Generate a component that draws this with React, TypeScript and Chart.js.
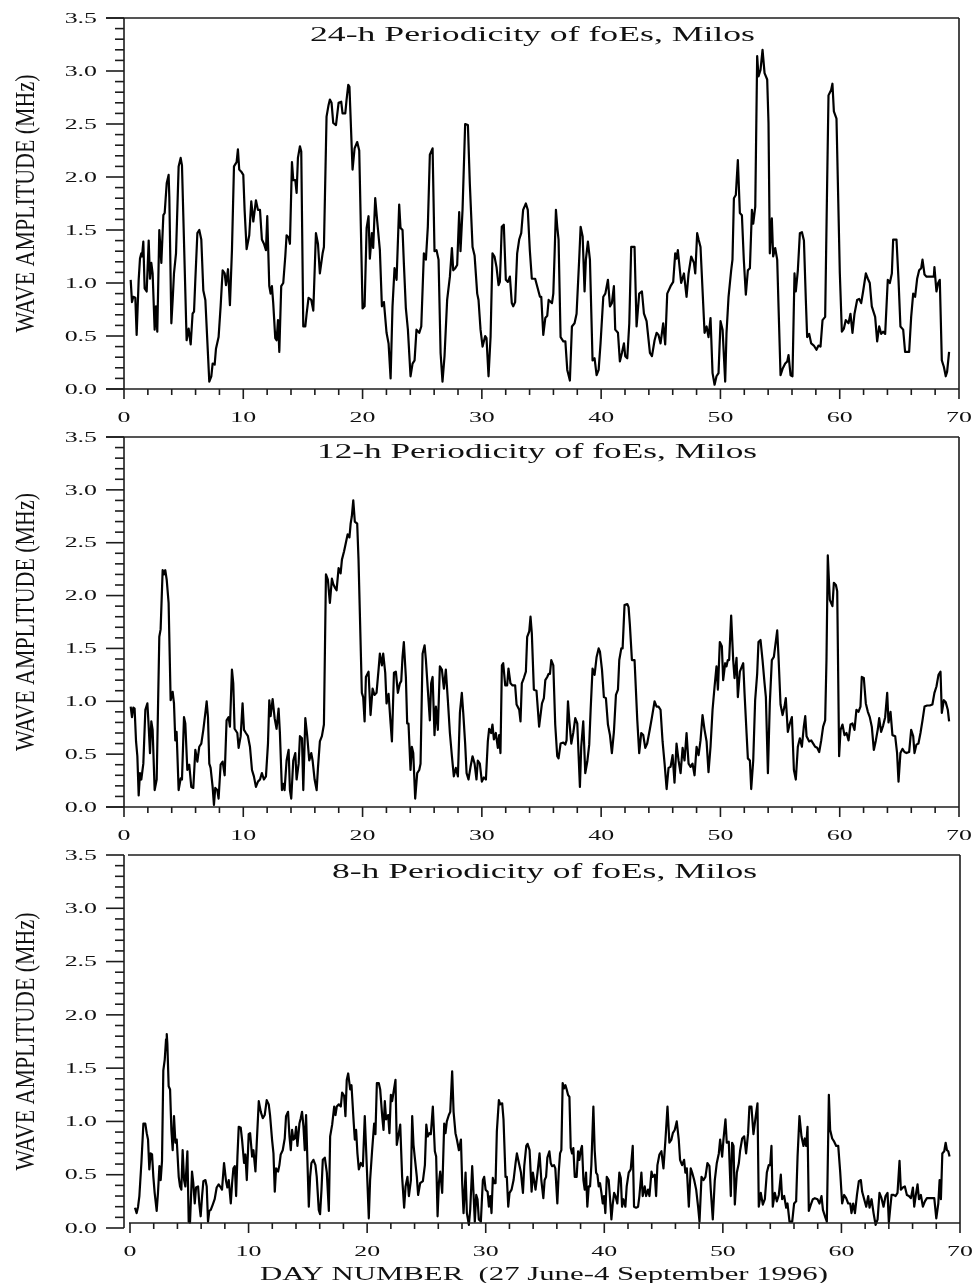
import React, { useEffect, useRef } from "react";
import { Chart, registerables } from "chart.js";

Chart.register(...registerables);

// ---------- DATA (day number, wave amplitude MHz) ----------
const series24: [number, number][] = [
  [0.56,1.03],[0.67,0.82],[0.78,0.87],[0.95,0.86],[1.06,0.51],[1.23,1.03],[1.34,1.23],[1.45,1.28],[1.51,1.25],[1.62,1.39],
  [1.73,0.95],[1.90,0.92],[2.07,1.40],[2.18,1.04],[2.29,1.19],[2.40,1.09],[2.57,0.56],[2.68,0.78],[2.79,0.54],[2.96,1.50],
  [3.13,1.19],[3.30,1.64],[3.41,1.66],[3.58,1.94],[3.74,2.02],[3.80,1.81],[3.97,0.62],[4.08,0.84],[4.19,1.09],[4.36,1.28],
  [4.58,2.10],[4.75,2.18],[4.86,2.11],[5.25,0.46],[5.42,0.57],[5.59,0.42],[5.75,0.71],[5.87,0.73],[5.98,1.03],[6.15,1.47],
  [6.31,1.50],[6.48,1.41],[6.65,0.93],[6.82,0.84],[7.15,0.07],[7.32,0.12],[7.43,0.24],[7.60,0.23],[7.71,0.38],[7.93,0.49],
  [8.10,0.78],[8.27,1.12],[8.44,1.09],[8.55,0.98],[8.72,1.13],[8.88,0.79],[9.05,1.31],[9.22,2.10],[9.44,2.14],[9.55,2.26],
  [9.66,2.07],[9.83,2.05],[10.0,2.02],[10.11,1.69],[10.28,1.32],[10.50,1.45],[10.67,1.77],[10.84,1.58],[11.06,1.78],[11.23,1.69],
  [11.40,1.69],[11.56,1.41],[11.73,1.37],[11.90,1.31],[12.01,1.63],[12.18,0.97],[12.29,0.90],[12.40,0.97],[12.51,0.81],[12.68,0.48],
  [12.79,0.46],[12.91,0.65],[13.02,0.35],[13.18,0.97],[13.35,1.00],[13.52,1.25],[13.63,1.45],[13.80,1.43],[13.91,1.37],[14.08,2.14],
  [14.19,1.97],[14.36,1.97],[14.47,1.85],[14.58,2.18],[14.75,2.29],[14.86,2.24],[15.03,0.59],[15.20,0.59],[15.31,0.71],[15.47,0.86],
  [15.70,0.84],[15.87,0.74],[16.09,1.47],[16.26,1.37],[16.42,1.09],[16.65,1.28],[16.76,1.34],[16.98,2.57],[17.15,2.68],[17.26,2.73],
  [17.40,2.70],[17.54,2.51],[17.77,2.49],[17.99,2.70],[18.21,2.71],[18.32,2.60],[18.55,2.60],[18.66,2.73],[18.80,2.87],[18.90,2.85],
  [19.16,2.07],[19.33,2.27],[19.55,2.33],[19.72,2.25],[20.0,0.76],[20.17,0.78],[20.34,1.52],[20.50,1.63],[20.61,1.23],[20.78,1.47],
  [20.89,1.33],[21.06,1.80],[21.23,1.58],[21.45,1.31],[21.62,0.78],[21.79,0.82],[22.01,0.53],[22.18,0.43],[22.35,0.10],[22.51,0.78],
  [22.68,1.14],[22.85,1.03],[23.07,1.74],[23.18,1.52],[23.35,1.50],[23.46,1.19],[23.63,0.76],[23.80,0.56],[24.02,0.12],[24.19,0.24],
  [24.36,0.27],[24.52,0.56],[24.75,0.53],[24.92,0.59],[25.14,1.28],[25.31,1.22],[25.47,1.53],[25.64,2.21],[25.87,2.27],[26.03,1.30],
  [26.20,1.31],[26.37,1.22],[26.54,0.34],[26.70,0.07],[26.87,0.31],[27.09,0.84],[27.32,1.06],[27.49,1.33],[27.60,1.12],[27.77,1.14],
  [27.93,1.17],[28.10,1.67],[28.21,1.30],[28.38,1.69],[28.60,2.50],[28.83,2.49],[28.99,1.94],[29.22,1.34],[29.39,1.26],[29.61,0.90],
  [29.72,0.84],[29.89,0.56],[30.06,0.40],[30.28,0.50],[30.39,0.48],[30.56,0.12],[30.73,0.49],[30.89,1.28],[31.06,1.25],[31.23,1.15],
  [31.40,0.98],[31.51,1.01],[31.67,1.53],[31.84,1.55],[32.01,1.03],[32.18,1.01],[32.35,1.06],[32.51,0.81],[32.63,0.78],[32.79,0.82],
  [32.96,1.28],[33.13,1.41],[33.30,1.47],[33.46,1.69],[33.69,1.75],[33.85,1.69],[34.02,1.31],[34.19,1.04],[34.47,1.04],[34.87,0.87],
  [34.98,0.87],[35.15,0.51],[35.32,0.67],[35.48,0.69],[35.60,0.84],[35.88,0.81],[35.99,0.90],[36.10,1.28],[36.21,1.69],[36.32,1.53],
  [36.43,1.41],[36.60,0.49],[36.83,0.45],[37.00,0.45],[37.16,0.18],[37.38,0.08],[37.55,0.59],[37.77,0.62],[37.94,0.71],[38.17,1.25],
  [38.28,1.53],[38.45,1.44],[38.61,0.92],[38.72,1.22],[38.89,1.39],[39.06,1.22],[39.28,0.27],[39.45,0.29],[39.62,0.13],[39.79,0.18],
  [39.95,0.43],[40.18,0.87],[40.35,0.90],[40.57,1.03],[40.74,0.78],[40.90,0.81],[41.07,0.97],[41.18,0.56],[41.41,0.53],[41.57,0.26],
  [41.74,0.34],[41.91,0.43],[42.02,0.31],[42.19,0.29],[42.36,0.62],[42.52,1.34],[42.80,1.34],[42.97,0.59],[43.19,0.90],[43.42,0.92],
  [43.59,0.71],[43.81,0.64],[44.09,0.34],[44.26,0.31],[44.48,0.46],[44.65,0.53],[44.81,0.51],[44.98,0.43],[45.20,0.62],[45.37,0.42],
  [45.54,0.90],[45.82,0.97],[46.04,1.01],[46.21,1.28],[46.32,1.23],[46.43,1.31],[46.71,1.00],[46.94,1.09],[47.16,0.87],[47.33,1.09],
  [47.55,1.25],[47.78,1.19],[47.89,1.09],[48.05,1.47],[48.17,1.41],[48.33,1.34],[48.67,0.53],[48.84,0.59],[49.00,0.49],[49.17,0.67],
  [49.34,0.15],[49.51,0.04],[49.67,0.12],[49.84,0.15],[50.01,0.64],[50.18,0.56],[50.40,0.07],[50.51,0.53],[50.68,0.87],[50.90,1.12],
  [51.01,1.22],[51.13,1.80],[51.29,1.83],[51.46,2.16],[51.63,1.66],[51.80,1.64],[51.96,1.22],[52.13,0.89],[52.30,1.12],[52.47,1.14],
  [52.64,1.69],[52.75,1.56],[52.92,1.72],[53.08,3.14],[53.19,2.95],[53.36,3.01],[53.53,3.20],[53.70,2.98],[53.92,2.92],[54.03,2.51],
  [54.14,1.28],[54.31,1.61],[54.42,1.25],[54.59,1.33],[54.76,1.22],[54.87,0.78],[55.04,0.13],[55.21,0.19],[55.43,0.24],[55.60,0.26],
  [55.71,0.32],[55.88,0.13],[56.04,0.12],[56.21,1.09],[56.32,0.92],[56.49,1.12],[56.66,1.47],[56.83,1.48],[57.00,1.40],[57.16,0.84],
  [57.27,0.49],[57.44,0.52],[57.61,0.43],[57.83,0.41],[58.05,0.37],[58.22,0.41],[58.39,0.40],[58.56,0.65],[58.78,0.68],[58.95,1.97],
  [59.06,2.77],[59.28,2.82],[59.39,2.88],[59.51,2.62],[59.73,2.55],[60.01,1.09],[60.18,0.54],[60.35,0.57],[60.51,0.65],[60.74,0.62],
  [60.90,0.71],[61.07,0.53],[61.24,0.71],[61.46,0.84],[61.63,0.85],[61.80,0.81],[61.96,0.92],[62.19,1.09],[62.36,1.04],[62.52,1.00],
  [62.69,0.78],[62.97,0.68],[63.14,0.45],[63.31,0.59],[63.48,0.52],[63.64,0.54],[63.81,0.52],[64.03,1.03],[64.20,1.00],[64.37,1.09],
  [64.48,1.41],[64.76,1.41],[64.93,1.03],[65.09,0.59],[65.32,0.56],[65.48,0.35],[65.82,0.35],[65.99,0.68],[66.16,0.90],[66.32,0.87],
  [66.49,1.04],[66.66,1.12],[66.83,1.14],[66.94,1.22],[67.11,1.08],[67.28,1.06],[67.55,1.06],[67.89,1.06],[67.94,1.15],[68.11,0.92],
  [68.25,1.00],[68.39,1.03],[68.56,0.27],[68.73,0.21],[68.89,0.12],[69.00,0.16],[69.17,0.35]
];

const series12: [number, number][] = [
  [0.56,0.95],[0.67,0.85],[0.78,0.94],[0.89,0.93],[1.01,0.62],[1.12,0.48],[1.23,0.11],[1.34,0.32],[1.45,0.26],[1.62,0.41],
  [1.79,0.92],[1.96,0.98],[2.07,0.76],[2.18,0.51],[2.29,0.81],[2.40,0.73],[2.57,0.16],[2.74,0.26],[2.96,1.61],[3.07,1.68],
  [3.24,2.24],[3.35,2.20],[3.46,2.24],[3.58,2.15],[3.74,1.93],[3.91,1.01],[4.08,1.09],[4.19,0.98],[4.30,0.63],[4.41,0.71],
  [4.58,0.16],[4.75,0.27],[4.86,0.26],[5.03,0.85],[5.14,0.79],[5.31,0.35],[5.47,0.40],[5.64,0.19],[5.81,0.18],[5.98,0.54],
  [6.15,0.43],[6.31,0.57],[6.48,0.60],[6.65,0.73],[6.82,0.89],[6.93,1.00],[7.04,0.85],[7.15,0.41],[7.26,0.37],[7.43,0.19],
  [7.54,0.02],[7.65,0.18],[7.82,0.16],[7.93,0.08],[8.10,0.40],[8.27,0.43],[8.44,0.30],[8.60,0.82],[8.77,0.85],[8.88,0.76],
  [9.05,1.30],[9.16,1.17],[9.27,0.74],[9.50,0.70],[9.61,0.56],[9.78,0.67],[9.94,0.98],[10.06,0.73],[10.22,0.70],[10.39,0.67],
  [10.56,0.57],[10.73,0.35],[10.89,0.29],[11.06,0.19],[11.23,0.24],[11.40,0.26],[11.56,0.32],[11.73,0.26],[11.90,0.29],[12.07,0.60],
  [12.18,1.01],[12.29,0.86],[12.46,1.02],[12.63,0.84],[12.79,0.74],[12.96,0.93],[13.07,0.70],[13.24,0.16],[13.35,0.22],[13.46,0.16],
  [13.63,0.44],[13.80,0.54],[13.91,0.16],[14.02,0.08],[14.19,0.44],[14.36,0.51],[14.47,0.26],[14.64,0.41],[14.75,0.67],[14.92,0.65],
  [15.03,0.16],[15.20,0.84],[15.36,0.67],[15.53,0.44],[15.70,0.51],[15.81,0.44],[15.98,0.26],[16.15,0.16],[16.26,0.37],[16.42,0.62],
  [16.59,0.67],[16.76,0.78],[16.93,2.20],[17.09,2.15],[17.26,1.93],[17.43,2.16],[17.54,2.11],[17.71,2.07],[17.82,2.05],[17.99,2.26],
  [18.16,2.21],[18.27,2.34],[18.45,2.42],[18.60,2.50],[18.75,2.58],[18.90,2.55],[19.00,2.68],[19.10,2.75],[19.22,2.90],[19.35,2.70],
  [19.55,2.68],[19.66,2.34],[19.94,1.08],[20.05,1.04],[20.17,0.81],[20.28,1.23],[20.50,1.28],[20.67,0.87],[20.84,1.12],[21.00,1.06],
  [21.17,1.08],[21.34,1.30],[21.45,1.45],[21.62,1.34],[21.73,1.45],[21.90,1.27],[22.01,0.98],[22.18,1.07],[22.35,0.79],[22.46,0.62],
  [22.63,1.27],[22.79,1.28],[22.96,1.08],[23.13,1.17],[23.24,1.19],[23.35,1.42],[23.46,1.56],[23.63,1.23],[23.74,0.79],[23.85,0.79],
  [24.02,0.35],[24.13,0.57],[24.25,0.51],[24.41,0.08],[24.58,0.32],[24.75,0.35],[24.86,0.41],[25.03,1.45],[25.20,1.53],[25.31,1.39],
  [25.47,1.11],[25.64,0.82],[25.75,1.17],[25.87,1.23],[26.03,0.68],[26.15,0.95],[26.31,0.73],[26.48,1.33],[26.65,1.30],[26.82,1.12],
  [26.98,1.30],[27.15,1.01],[27.32,0.70],[27.49,0.48],[27.65,0.29],[27.82,0.37],[27.99,0.29],[28.16,0.89],[28.32,1.08],[28.44,0.89],
  [28.60,0.60],[28.72,0.32],[28.88,0.26],[29.05,0.38],[29.22,0.48],[29.39,0.41],[29.55,0.26],[29.66,0.44],[29.83,0.41],[30.00,0.24],
  [30.17,0.28],[30.34,0.26],[30.50,0.62],[30.61,0.74],[30.78,0.70],[30.89,0.78],[31.01,0.64],[31.17,0.70],[31.34,0.56],[31.45,0.68],
  [31.56,0.51],[31.68,1.34],[31.79,1.36],[31.96,1.15],[32.12,1.15],[32.23,1.31],[32.40,1.17],[32.57,1.15],[32.79,1.15],[32.91,0.97],
  [33.13,0.92],[33.24,0.81],[33.35,1.17],[33.52,1.22],[33.69,1.28],[33.80,1.61],[33.97,1.66],[34.08,1.80],[34.19,1.64],[34.36,1.11],
  [34.58,1.10],[34.80,0.76],[35.04,0.98],[35.20,1.03],[35.32,1.20],[35.48,1.23],[35.60,1.26],[35.71,1.26],[35.82,1.39],[35.99,1.34],
  [36.15,0.78],[36.32,0.48],[36.43,0.46],[36.60,0.60],[36.83,0.61],[36.99,0.59],[37.10,0.63],[37.22,1.00],[37.33,0.82],[37.50,0.60],
  [37.66,0.70],[37.83,0.84],[38.00,0.79],[38.22,0.19],[38.33,0.57],[38.50,0.81],[38.67,0.32],[38.84,0.43],[39.00,0.59],[39.12,0.92],
  [39.28,1.31],[39.45,1.25],[39.62,1.42],[39.79,1.50],[39.90,1.47],[40.07,1.30],[40.23,1.04],[40.40,1.03],[40.57,0.78],[40.74,0.68],
  [40.90,0.51],[41.07,0.71],[41.24,1.06],[41.41,1.11],[41.52,1.39],[41.69,1.50],[41.80,1.50],[41.96,1.91],[42.19,1.92],[42.30,1.89],
  [42.41,1.72],[42.58,1.39],[42.80,1.39],[43.03,0.82],[43.19,0.51],[43.36,0.70],[43.53,0.68],[43.70,0.56],[43.86,0.60],[44.09,0.74],
  [44.26,0.85],[44.48,1.00],[44.65,0.95],[44.81,0.95],[44.98,0.92],[45.15,0.62],[45.32,0.41],[45.49,0.17],[45.65,0.37],[45.82,0.38],
  [45.99,0.49],[46.15,0.23],[46.32,0.60],[46.49,0.44],[46.66,0.32],[46.83,0.56],[46.99,0.44],[47.16,0.70],[47.33,0.41],[47.50,0.38],
  [47.66,0.41],[47.83,0.30],[48.00,0.57],[48.17,0.49],[48.33,0.63],[48.50,0.87],[48.67,0.73],[48.84,0.62],[49.00,0.33],[49.17,0.57],
  [49.34,0.92],[49.51,1.14],[49.67,1.33],[49.79,1.11],[49.95,1.56],[50.12,1.52],[50.23,1.20],[50.40,1.36],[50.51,1.33],[50.62,1.39],
  [50.73,1.39],[50.90,1.81],[51.07,1.39],[51.18,1.22],[51.35,1.41],[51.46,1.04],[51.63,1.28],[51.80,1.33],[51.91,1.36],[52.02,1.08],
  [52.19,0.70],[52.30,0.46],[52.47,0.44],[52.58,0.17],[52.75,0.44],[52.91,1.01],[53.08,1.26],[53.19,1.56],[53.36,1.58],[53.53,1.39],
  [53.70,1.17],[53.81,1.04],[53.98,0.32],[54.14,0.98],[54.31,1.39],[54.48,1.42],[54.59,1.52],[54.76,1.67],[54.87,1.42],[55.04,0.97],
  [55.21,0.87],[55.37,0.95],[55.48,1.03],[55.65,0.71],[55.82,0.79],[55.99,0.85],[56.16,0.35],[56.32,0.26],[56.49,0.57],[56.66,0.65],
  [56.83,0.57],[56.99,0.76],[57.11,0.86],[57.22,0.67],[57.44,0.62],[57.61,0.63],[57.78,0.60],[57.94,0.57],[58.11,0.56],[58.28,0.52],
  [58.45,0.63],[58.61,0.76],[58.78,0.82],[58.89,1.39],[59.00,2.38],[59.17,1.96],[59.39,1.90],[59.51,2.12],[59.68,2.10],[59.79,2.04],
  [59.95,0.48],[60.07,0.73],[60.23,0.78],[60.40,0.68],[60.57,0.70],[60.74,0.63],[60.90,0.78],[61.07,0.79],[61.24,0.73],[61.40,0.92],
  [61.57,0.90],[61.74,0.95],[61.85,1.23],[62.02,1.22],[62.19,0.98],[62.36,0.90],[62.52,0.85],[62.69,0.76],[62.86,0.54],[63.03,0.63],
  [63.20,0.74],[63.31,0.84],[63.47,0.71],[63.64,0.77],[63.81,0.85],[63.98,1.08],[64.09,0.80],[64.26,0.90],[64.42,0.68],[64.65,0.67],
  [64.81,0.51],[64.93,0.24],[65.09,0.51],[65.26,0.55],[65.43,0.52],[65.60,0.51],[65.82,0.52],[65.99,0.73],[66.16,0.67],[66.27,0.51],
  [66.43,0.59],[66.60,0.60],[66.77,0.70],[66.94,0.82],[67.11,0.95],[67.33,0.96],[67.55,0.96],[67.77,0.97],[67.94,1.08],[68.11,1.14],
  [68.28,1.25],[68.45,1.28],[68.56,0.89],[68.73,1.01],[68.89,0.99],[69.06,0.92],[69.17,0.81]
];

const series8: [number, number][] = [
  [0.42,0.19],[0.56,0.14],[0.68,0.20],[0.79,0.30],[0.96,0.61],[1.13,0.98],[1.29,0.98],[1.41,0.89],[1.52,0.83],[1.63,0.55],
  [1.74,0.70],[1.86,0.69],[1.97,0.48],[2.08,0.33],[2.25,0.16],[2.36,0.33],[2.48,0.58],[2.59,0.45],[2.70,0.63],[2.81,1.48],
  [2.93,1.58],[3.04,1.77],[3.10,1.82],[3.15,1.73],[3.26,1.33],[3.38,1.30],[3.49,0.92],[3.60,0.73],[3.71,1.05],[3.83,0.80],
  [3.94,0.83],[4.11,0.48],[4.22,0.39],[4.33,0.36],[4.44,0.73],[4.56,0.45],[4.67,0.39],[4.84,0.72],[4.95,0.06],[5.06,0.05],
  [5.23,0.53],[5.34,0.42],[5.46,0.23],[5.57,0.38],[5.74,0.39],[5.85,0.22],[5.96,0.11],[6.08,0.30],[6.19,0.44],[6.36,0.45],
  [6.47,0.39],[6.58,0.06],[6.69,0.16],[6.81,0.17],[6.98,0.22],[7.14,0.27],[7.31,0.38],[7.48,0.41],[7.65,0.38],[7.76,0.36],
  [7.93,0.61],[8.10,0.44],[8.21,0.38],[8.33,0.45],[8.50,0.23],[8.61,0.42],[8.72,0.56],[8.84,0.58],[8.95,0.30],[9.06,0.67],
  [9.17,0.95],[9.34,0.94],[9.45,0.83],[9.62,0.61],[9.73,0.69],[9.85,0.45],[10.01,0.88],[10.13,0.89],[10.30,0.67],[10.41,0.73],
  [10.58,0.53],[10.69,0.80],[10.86,1.19],[11.03,1.09],[11.20,1.03],[11.36,1.06],[11.53,1.20],[11.70,1.16],[11.81,1.06],[11.98,0.83],
  [12.10,0.70],[12.21,0.34],[12.32,0.56],[12.49,0.53],[12.60,0.59],[12.71,0.69],[12.88,0.73],[13.05,0.84],[13.16,1.05],[13.33,1.09],
  [13.45,0.86],[13.56,0.73],[13.67,0.92],[13.78,0.83],[13.90,0.84],[14.01,0.95],[14.12,0.77],[14.29,0.98],[14.40,1.03],[14.51,1.09],
  [14.63,0.95],[14.74,0.73],[14.85,1.06],[14.96,0.64],[15.08,0.20],[15.19,0.48],[15.30,0.61],[15.47,0.64],[15.64,0.59],[15.75,0.48],
  [15.92,0.17],[16.03,0.13],[16.15,0.36],[16.26,0.64],[16.43,0.66],[16.60,0.52],[16.77,0.16],[16.88,0.86],[17.05,0.97],[17.22,1.14],
  [17.33,1.06],[17.44,1.14],[17.61,1.16],[17.78,1.14],[17.89,1.27],[18.06,1.24],[18.17,1.05],[18.28,1.39],[18.40,1.45],[18.57,1.30],
  [18.68,1.34],[18.85,1.02],[18.96,0.83],[19.07,0.92],[19.18,0.70],[19.30,0.55],[19.47,0.61],[19.64,0.58],[19.80,1.05],[19.97,0.58],
  [20.14,0.09],[20.25,0.45],[20.42,0.73],[20.59,0.98],[20.70,0.88],[20.82,1.36],[20.98,1.36],[21.10,1.30],[21.27,1.05],[21.38,0.92],
  [21.49,1.19],[21.60,1.02],[21.77,1.06],[21.88,0.89],[22.00,1.25],[22.11,1.19],[22.22,1.27],[22.39,1.39],[22.50,0.78],[22.67,0.89],
  [22.79,0.97],[22.95,0.48],[23.12,0.19],[23.24,0.39],[23.40,0.48],[23.52,0.30],[23.69,0.45],[23.80,1.05],[23.91,0.78],[24.02,0.66],
  [24.19,0.48],[24.30,0.31],[24.47,0.42],[24.70,0.44],[24.87,0.59],[24.99,0.97],[25.11,0.86],[25.26,0.89],[25.37,0.88],[25.54,1.14],
  [25.71,0.72],[25.82,0.67],[25.94,0.11],[26.05,0.42],[26.16,0.53],[26.33,0.33],[26.50,0.98],[26.61,0.89],[26.72,1.00],[26.89,1.06],
  [27.01,1.09],[27.17,1.47],[27.29,1.09],[27.45,0.89],[27.57,0.83],[27.74,0.73],[27.91,0.83],[28.02,0.41],[28.13,0.14],[28.30,0.52],
  [28.41,0.14],[28.58,0.03],[28.69,0.17],[28.86,0.58],[28.97,0.33],[29.08,0.06],[29.20,0.31],[29.31,0.27],[29.42,0.08],[29.59,0.06],
  [29.76,0.45],[29.87,0.48],[29.99,0.36],[30.16,0.34],[30.27,0.20],[30.38,0.30],[30.49,0.14],[30.60,0.47],[30.72,0.42],[30.83,0.42],
  [30.94,0.91],[31.11,1.20],[31.22,1.16],[31.39,1.17],[31.50,1.02],[31.67,0.48],[31.78,0.48],[31.90,0.20],[32.01,0.33],[32.18,0.36],
  [32.35,0.45],[32.52,0.61],[32.63,0.70],[32.80,0.61],[32.97,0.52],[33.14,0.33],[33.25,0.58],[33.42,0.77],[33.53,0.79],[33.70,0.73],
  [33.87,0.34],[33.98,0.52],[34.20,0.36],[34.37,0.52],[34.54,0.70],[34.69,0.45],[34.86,0.28],[34.97,0.45],[35.09,0.48],[35.20,0.66],
  [35.37,0.72],[35.48,0.61],[35.59,0.58],[35.76,0.59],[35.87,0.56],[36.04,0.23],[36.16,0.53],[36.27,0.70],[36.38,0.73],[36.49,1.36],
  [36.61,1.31],[36.72,1.34],[36.83,1.30],[36.94,1.25],[37.06,1.23],[37.17,0.75],[37.28,0.70],[37.39,0.75],[37.51,0.48],[37.67,0.48],
  [37.79,0.72],[37.90,0.64],[38.01,0.73],[38.12,0.77],[38.24,0.45],[38.35,0.36],[38.46,0.52],[38.57,0.20],[38.69,0.39],[38.80,0.39],
  [38.91,0.59],[39.08,1.14],[39.19,0.73],[39.31,0.52],[39.42,0.50],[39.53,0.39],[39.64,0.42],[39.76,0.33],[39.87,0.23],[39.98,0.30],
  [40.09,0.14],[40.21,0.48],[40.37,0.45],[40.49,0.27],[40.60,0.08],[40.71,0.22],[40.83,0.33],[40.94,0.30],[41.10,0.23],[41.27,0.52],
  [41.39,0.47],[41.50,0.20],[41.61,0.27],[41.78,0.20],[41.89,0.39],[42.06,0.52],[42.23,0.55],[42.40,0.77],[42.51,0.20],[42.68,0.19],
  [42.85,0.20],[42.96,0.30],[43.13,0.52],[43.24,0.30],[43.41,0.39],[43.53,0.30],[43.69,0.36],[43.81,0.30],[43.98,0.53],[44.09,0.48],
  [44.26,0.50],[44.37,0.30],[44.48,0.59],[44.65,0.69],[44.82,0.72],[44.99,0.56],[45.16,0.83],[45.33,1.14],[45.49,0.80],[45.66,0.83],
  [45.78,0.89],[45.94,0.92],[46.11,1.00],[46.28,0.83],[46.39,0.64],[46.56,0.59],[46.73,0.64],[46.84,0.52],[46.96,0.56],[47.13,0.20],
  [47.29,0.56],[47.41,0.52],[47.58,0.45],[47.75,0.36],[47.91,0.20],[48.03,0.06],[48.20,0.48],[48.36,0.45],[48.53,0.48],[48.70,0.61],
  [48.87,0.58],[48.98,0.36],[49.15,0.08],[49.32,0.45],[49.49,0.61],[49.66,0.70],[49.77,0.83],[49.94,0.67],[50.05,0.83],[50.22,1.02],
  [50.33,0.80],[50.50,0.81],[50.67,0.30],[50.78,0.80],[50.90,0.77],[51.01,0.22],[51.18,0.52],[51.35,0.61],[51.46,0.73],[51.63,0.84],
  [51.80,0.86],[51.96,0.70],[52.13,0.89],[52.24,1.14],[52.41,1.14],[52.58,0.88],[52.75,1.03],[52.92,1.17],[53.03,0.20],[53.20,0.33],
  [53.37,0.22],[53.54,0.27],[53.71,0.52],[53.87,0.59],[53.99,0.59],[54.10,0.77],[54.21,0.20],[54.38,0.33],[54.55,0.25],[54.72,0.31],
  [54.89,0.50],[55.00,0.27],[55.17,0.30],[55.34,0.19],[55.45,0.23],[55.62,0.06],[55.85,0.06],[56.01,0.23],[56.18,0.25],[56.30,0.67],
  [56.46,1.05],[56.63,0.86],[56.80,0.77],[56.91,0.84],[57.03,0.77],[57.14,0.95],[57.25,0.16],[57.42,0.22],[57.59,0.27],[57.76,0.28],
  [57.98,0.27],[58.15,0.23],[58.32,0.30],[58.44,0.17],[58.61,0.11],[58.77,0.06],[58.94,1.25],[59.05,0.92],[59.22,0.84],[59.39,0.81],
  [59.56,0.77],[59.73,0.77],[59.90,0.52],[60.06,0.23],[60.23,0.31],[60.40,0.28],[60.57,0.23],[60.74,0.23],[60.85,0.14],[60.99,0.23],
  [61.14,0.14],[61.31,0.31],[61.47,0.44],[61.64,0.45],[61.75,0.34],[61.92,0.27],[62.09,0.20],[62.26,0.30],[62.37,0.19],[62.54,0.27],
  [62.71,0.14],[62.88,0.03],[63.05,0.08],[63.21,0.33],[63.38,0.28],[63.55,0.20],[63.72,0.30],[63.89,0.33],[64.00,0.05],[64.12,0.19],
  [64.23,0.31],[64.40,0.31],[64.57,0.30],[64.73,0.33],[64.90,0.63],[65.01,0.36],[65.18,0.38],[65.35,0.39],[65.52,0.31],[65.69,0.30],
  [65.86,0.28],[66.03,0.38],[66.14,0.20],[66.26,0.30],[66.42,0.41],[66.54,0.27],[66.70,0.31],[66.87,0.20],[67.04,0.25],[67.21,0.28],
  [67.44,0.28],[67.66,0.28],[67.83,0.28],[68.00,0.09],[68.17,0.23],[68.28,0.45],[68.39,0.27],[68.51,0.70],[68.67,0.72],[68.79,0.80],
  [68.90,0.73],[69.01,0.72],[69.12,0.67]
];

const panelTitles = [
  "24-h Periodicity of foEs, Milos",
  "12-h Periodicity of foEs, Milos",
  "8-h Periodicity of foEs, Milos",
];
const yAxisTitle = "WAVE AMPLITUDE (MHz)";
const xAxisTitle = "DAY NUMBER  (27 June-4 September 1996)";

const yMajorTicks = [0, 0.5, 1.0, 1.5, 2.0, 2.5, 3.0, 3.5];
const yMajorLabels = ["0.0", "0.5", "1.0", "1.5", "2.0", "2.5", "3.0", "3.5"];
const yMinorTicks = [
  0.1, 0.2, 0.3, 0.4, 0.6, 0.7, 0.8, 0.9, 1.1, 1.2, 1.3, 1.4, 1.6, 1.7, 1.8, 1.9,
  2.1, 2.2, 2.3, 2.4, 2.6, 2.7, 2.8, 2.9, 3.1, 3.2, 3.3, 3.4,
];
const xMajorTicks = [0, 10, 20, 30, 40, 50, 60, 70];
const xMajorLabels = ["0", "10", "20", "30", "40", "50", "60", "70"];
const xMinorTicks = [
  2, 4, 6, 8, 12, 14, 16, 18, 22, 24, 26, 28, 32, 34, 36, 38,
  42, 44, 46, 48, 52, 54, 56, 58, 62, 64, 66, 68,
];

// ---------- LAYOUT (page pixels) ----------
const SERIF = "'Liberation Serif', 'Times New Roman', serif";

interface PanelLayout {
  top: number;
  height: number;
  plotLeft: number;
  plotRight: number;
  plotTop: number;
  plotBottom: number;
  yAxisX: number;
  xAxisY: number;
  frameLeft: number;
  xAxisLeft: number;
  titleX0: number;
  titleX1: number;
  titleBase: number;
  showXTitle: boolean;
}

const layouts: PanelLayout[] = [
  { top: 0, height: 430, plotLeft: 124, plotRight: 959, plotTop: 18, plotBottom: 389, yAxisX: 124, xAxisY: 389,
    frameLeft: 106, xAxisLeft: 106, titleX0: 310, titleX1: 755, titleBase: 41, showXTitle: false },
  { top: 430, height: 418, plotLeft: 124, plotRight: 959, plotTop: 437, plotBottom: 807, yAxisX: 124, xAxisY: 807,
    frameLeft: 106, xAxisLeft: 106, titleX0: 317, titleX1: 757, titleBase: 458, showXTitle: false },
  { top: 848, height: 435, plotLeft: 130, plotRight: 960, plotTop: 855, plotBottom: 1228, yAxisX: 124, xAxisY: 1223,
    frameLeft: 128, xAxisLeft: 129, titleX0: 332, titleX1: 757, titleBase: 878, showXTitle: true },
];

function drawStretched(
  ctx: CanvasRenderingContext2D, text: string, x: number, y: number,
  size: number, sx: number, align: "left" | "center" | "right"
) {
  ctx.save();
  ctx.font = `${size}px ${SERIF}`;
  ctx.textAlign = "left";
  ctx.textBaseline = "middle";
  const w = ctx.measureText(text).width * sx;
  const x0 = align === "center" ? x - w / 2 : align === "right" ? x - w : x;
  ctx.translate(x0, y);
  ctx.scale(sx, 1);
  ctx.fillText(text, 0, 0);
  ctx.restore();
}

function drawFitted(
  ctx: CanvasRenderingContext2D, text: string, x0: number, x1: number, baseline: number, size: number
) {
  ctx.save();
  ctx.font = `${size}px ${SERIF}`;
  ctx.textAlign = "left";
  ctx.textBaseline = "alphabetic";
  const w = ctx.measureText(text).width;
  ctx.translate(x0, baseline);
  ctx.scale((x1 - x0) / w, 1);
  ctx.fillText(text, 0, 0);
  ctx.restore();
}

function makeDecorPlugin(L: PanelLayout, title: string) {
  return {
    id: "decor",
    afterDraw(chart: any) {
      const ctx: CanvasRenderingContext2D = chart.ctx;
      const xs = chart.scales.x;
      const ys = chart.scales.y;
      const T = L.top;
      const seg = (x1: number, y1: number, x2: number, y2: number) => {
        ctx.beginPath();
        ctx.moveTo(x1, y1);
        ctx.lineTo(x2, y2);
        ctx.stroke();
      };
      ctx.save();
      ctx.strokeStyle = "#1c1c1c";
      ctx.fillStyle = "#111";
      ctx.lineWidth = 1.6;
      // frame
      seg(L.frameLeft, L.plotTop - T, L.plotRight, L.plotTop - T);
      seg(L.plotRight, L.plotTop - T, L.plotRight, L.xAxisY - T);
      seg(L.xAxisLeft, L.xAxisY - T, L.plotRight, L.xAxisY - T);
      seg(L.yAxisX, L.plotTop - T, L.yAxisX, L.plotBottom - T);
      // y ticks
      yMajorTicks.forEach((v, i) => {
        const y = ys.getPixelForValue(v);
        seg(L.yAxisX - 18, y, L.yAxisX, y);
        drawStretched(ctx, yMajorLabels[i], 97, y + 1, 14, 1.85, "right");
      });
      yMinorTicks.forEach((v) => {
        const y = ys.getPixelForValue(v);
        seg(L.yAxisX - 9, y, L.yAxisX, y);
      });
      // x ticks
      const ax = L.xAxisY - T;
      xMajorTicks.forEach((v, i) => {
        const x = xs.getPixelForValue(v);
        seg(x, ax, x, ax + 10);
        drawStretched(ctx, xMajorLabels[i], x, ax + 29, 14, 1.85, "center");
      });
      xMinorTicks.forEach((v) => {
        const x = xs.getPixelForValue(v);
        seg(x, ax, x, ax + 6);
      });
      // panel title
      drawFitted(ctx, title, L.titleX0, L.titleX1, L.titleBase - T, 20);
      // y axis title (rotated)
      ctx.save();
      ctx.font = `28px ${SERIF}`;
      const tw = ctx.measureText(yAxisTitle).width;
      ctx.translate(34, (L.plotTop + L.plotBottom) / 2 - T);
      ctx.rotate(-Math.PI / 2);
      ctx.scale(258 / tw, 1);
      ctx.textAlign = "center";
      ctx.textBaseline = "alphabetic";
      ctx.fillText(yAxisTitle, 0, 0);
      ctx.restore();
      // x axis title
      if (L.showXTitle) {
        drawFitted(ctx, xAxisTitle, 260, 828, 1280 - T, 18);
      }
      ctx.restore();
    },
  };
}

function Panel({ layout, series, title }: { layout: PanelLayout; series: [number, number][]; title: string }) {
  const ref = useRef<HTMLCanvasElement>(null);
  useEffect(() => {
    const canvas = ref.current;
    if (!canvas) return;
    const L = layout;
    const chart = new Chart(canvas, {
      type: "line",
      data: {
        datasets: [
          {
            data: series.map(([x, y]) => ({ x, y })),
            borderColor: "#000",
            borderWidth: 2.2,
            borderJoinStyle: "round",
            pointRadius: 0,
            tension: 0,
            fill: false,
          },
        ],
      },
      options: {
        responsive: false,
        animation: false,
        devicePixelRatio: 1,
        events: [],
        layout: {
          padding: {
            left: L.plotLeft,
            right: 976 - L.plotRight,
            top: L.plotTop - L.top,
            bottom: L.top + L.height - L.plotBottom,
          },
        },
        scales: {
          x: { type: "linear", min: 0, max: 70, display: false },
          y: { type: "linear", min: 0, max: 3.5, display: false },
        },
        plugins: {
          legend: { display: false },
          tooltip: { enabled: false },
        },
      },
      plugins: [makeDecorPlugin(L, title)],
    } as any);
    return () => chart.destroy();
  }, [layout, series, title]);
  return (
    <canvas
      ref={ref}
      width={976}
      height={layout.height}
      style={{ position: "absolute", left: 0, top: layout.top, width: 976, height: layout.height }}
    />
  );
}

export default function App() {
  return (
    <div style={{ position: "absolute", left: 0, top: 0, width: 976, height: 1283, background: "#fff", overflow: "hidden" }}>
      <Panel layout={layouts[0]} series={series24} title={panelTitles[0]} />
      <Panel layout={layouts[1]} series={series12} title={panelTitles[1]} />
      <Panel layout={layouts[2]} series={series8} title={panelTitles[2]} />
    </div>
  );
}
